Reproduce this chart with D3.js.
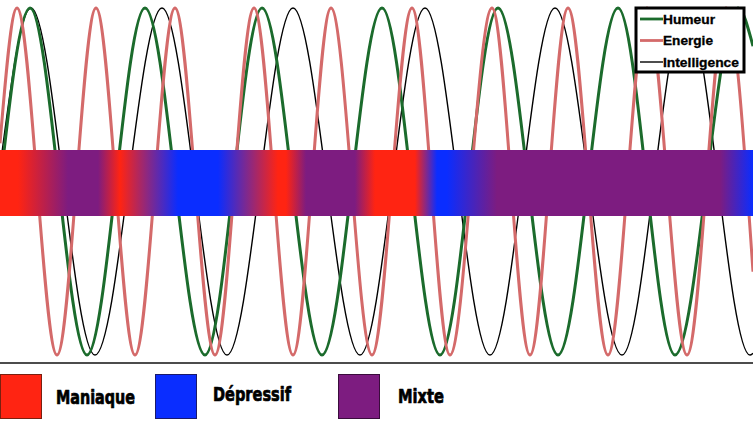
<!DOCTYPE html>
<html>
<head>
<meta charset="utf-8">
<script src="https://cdn.jsdelivr.net/npm/d3@7"></script>
<style>
html,body{margin:0;padding:0;background:#fff;}
svg{display:block;}
</style>
</head>
<body>
<svg id="chart" width="753" height="424"></svg>
<script>
// ---- data (t = position along the time axis, v = normalised cycle value) ----
const humeurT = [0, 30, 87, 145, 205, 262, 322, 382, 440, 498, 558, 618, 675, 738, 753];
const humeurV = [-0.03, 1, -1, 1, -1, 1, -1, 1, -1, 1, -1, 1, -1, 1, 0.78];

const energieT = [0, 17, 57, 96, 135, 175, 215, 254, 293, 331, 372, 412, 450, 492, 530, 568, 608, 647, 687, 726, 753];
const energieV = [0.22, 1, -1, 1, -1, 1, -1, 1, -1, 1, -1, 1, -1, 1, -1, 1, -1, 1, -1, 1, -0.52];

const intelT = [0, 31, 95, 162, 227, 293, 360, 425, 490, 555, 622, 686, 750, 753];
const intelV = [0.08, 1, -1, 1, -1, 1, -1, 1, -1, 1, -1, 1, -1, -0.99];

const seriesNames = ["Humeur", "Energie", "Intelligence"];
const seriesColors = ["#1b6b2c", "#d46a6a", "#000000"];
const seriesWidths = [3, 3, 1.4];

// state band colour stops along t
const bandT = [0, 18, 68, 98, 120, 178, 218, 278, 286, 306, 355, 375, 415, 437, 447, 497, 720, 753];
const bandState = ["M","M","X","X","M","D","D","M","M","X","X","M","M","D","D","X","X","D"];

const stateKeys = ["M", "D", "X"];
const stateLabels = ["Maniaque", "Dépressif", "Mixte"];
const stateColors = ["#ff2412", "#0a2dff", "#7d1c80"];
const stateBorders = ["#7a2010", "#1a1a6a", "#3a0c3c"];

// ---- drawing ----
const W = 753, H = 424;
const svg = d3.select("#chart");

const x = d3.scaleLinear().domain([0, 753]).range([0, W]);
const y = d3.scaleLinear().domain([-1, 1]).range([355, 8]);

const line = d3.line()
  .x(d => x(d[0]))
  .y(d => y(d[1]))
  .curve(d3.curveMonotoneX);

const series = [
  d3.zip(humeurT, humeurV),
  d3.zip(energieT, energieV),
  d3.zip(intelT, intelV)
];

// draw order: black, green, red (red lies above)
[2, 0, 1].forEach(i => {
  svg.append("path")
    .attr("d", line(series[i]))
    .attr("fill", "none")
    .attr("stroke", seriesColors[i])
    .attr("stroke-width", seriesWidths[i])
    .attr("stroke-linejoin", "round");
});

// band gradient
const stateColor = d3.scaleOrdinal().domain(stateKeys).range(stateColors);
const defs = svg.append("defs");
const grad = defs.append("linearGradient")
  .attr("id", "band")
  .attr("gradientUnits", "userSpaceOnUse")
  .attr("x1", x(0)).attr("x2", x(753))
  .attr("y1", 0).attr("y2", 0);
grad.selectAll("stop")
  .data(d3.zip(bandT, bandState))
  .join("stop")
  .attr("offset", d => (x(d[0]) / W))
  .attr("stop-color", d => stateColor(d[1]));

const bandY = d3.scaleLinear().domain([0, 1]).range([216, 150]);
svg.append("rect")
  .attr("x", x(0)).attr("width", x(753) - x(0))
  .attr("y", bandY(1)).attr("height", bandY(0) - bandY(1))
  .attr("fill", "url(#band)");

// baseline
svg.append("line")
  .attr("x1", 0).attr("x2", W)
  .attr("y1", 363).attr("y2", 363)
  .attr("stroke", "#111").attr("stroke-width", 1.6);

// top-right legend
const lg = svg.append("g").attr("transform", "translate(636,8)");
lg.append("rect")
  .attr("width", 108).attr("height", 64)
  .attr("fill", "#fff").attr("stroke", "#000").attr("stroke-width", 3);
const lgW = [52, 50, 76];
seriesNames.forEach((n, i) => {
  const yy = 11 + i * 21.5;
  lg.append("line")
    .attr("x1", 4).attr("x2", 27)
    .attr("y1", yy).attr("y2", yy)
    .attr("stroke", seriesColors[i])
    .attr("stroke-width", i === 2 ? 1.4 : 2.8);
  lg.append("text")
    .attr("x", 27).attr("y", yy + 4.5)
    .attr("font-family", "Liberation Sans, Arial, sans-serif")
    .attr("font-weight", "bold")
    .attr("font-size", 12.5)
    .attr("textLength", lgW[i])
    .attr("lengthAdjust", "spacingAndGlyphs")
    .attr("fill", "#000")
    .attr("stroke", "#000").attr("stroke-width", 0.3)
    .text(n);
});

// bottom legend
const sqX = [0, 155, 338];
const txX = [56, 213, 398];
const txY = [404, 401, 403];
const txW = [79, 78, 46];
stateKeys.forEach((k, i) => {
  svg.append("rect")
    .attr("x", sqX[i] + 0.5).attr("y", 374.5)
    .attr("width", 41).attr("height", 44)
    .attr("fill", stateColors[i])
    .attr("stroke", stateBorders[i]).attr("stroke-width", 1);
  svg.append("text")
    .attr("x", txX[i]).attr("y", txY[i])
    .attr("font-family", "Liberation Sans Narrow, DejaVu Sans Condensed, Arial Narrow, sans-serif")
    .attr("font-weight", "bold")
    .attr("font-size", 20)
    .attr("textLength", txW[i])
    .attr("lengthAdjust", "spacingAndGlyphs")
    .attr("fill", "#000")
    .attr("stroke", "#000").attr("stroke-width", 0.7)
    .attr("stroke-linejoin", "round")
    .text(stateLabels[i]);
});
</script>
</body>
</html>
